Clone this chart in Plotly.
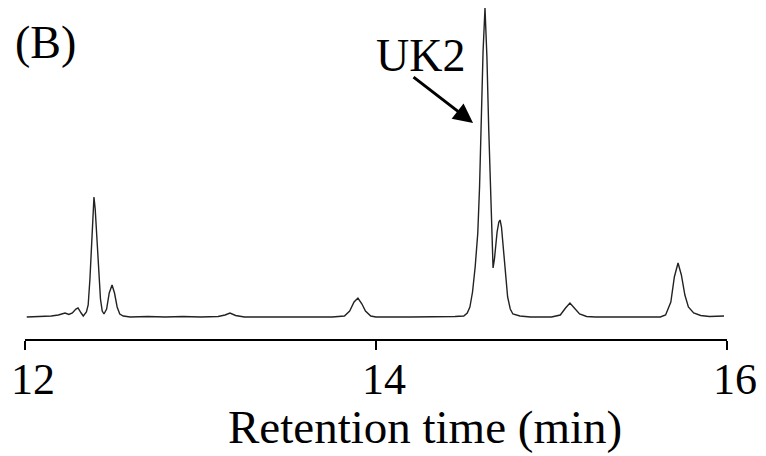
import plotly.graph_objects as go

# Chromatogram: retention time (min) and detector signal (arbitrary units)
time_min = [
    12.01, 12.10, 12.15, 12.19, 12.21, 12.228, 12.25, 12.27, 12.29, 12.302, 12.32, 12.332,
    12.35, 12.36, 12.37, 12.38, 12.388, 12.393, 12.40, 12.41, 12.42, 12.43, 12.44,
    12.45, 12.465, 12.48, 12.496, 12.51, 12.525, 12.54, 12.56, 12.60,
    12.70, 12.80, 12.90, 13.00, 13.10, 13.14, 13.168, 13.20, 13.25, 13.40, 13.60, 13.75,
    13.82, 13.85, 13.875, 13.897, 13.92, 13.94, 13.97, 14.00, 14.20, 14.40, 14.45,
    14.50, 14.52, 14.535, 14.55, 14.565, 14.58, 14.59, 14.60, 14.61, 14.621, 14.632,
    14.642, 14.652, 14.66, 14.667, 14.675, 14.69, 14.70, 14.707, 14.715, 14.728, 14.74,
    14.75, 14.765, 14.78, 14.82, 14.88, 15.00, 15.05, 15.08, 15.105, 15.13, 15.16, 15.20,
    15.25, 15.50, 15.62, 15.65, 15.68, 15.70, 15.721, 15.74, 15.76, 15.78, 15.81, 15.85,
    15.90, 15.983,
]
signal = [
    0, 0.5, 1, 2, 3, 4, 2.5, 4, 8, 9, 4, 1,
    5, 12, 38, 78, 108, 120, 108, 80, 45, 18, 6,
    3, 8, 24, 32, 24, 10, 3, 1, 0,
    0.5, 0, 0.5, 0, 0.5, 2, 4, 1.5, 0, 0, 0.3, 0,
    1, 6, 15, 19, 13, 6, 1, 0, 0, 0, 0.5,
    1, 4, 10, 25, 50, 84, 130, 200, 265, 309, 260,
    190, 125, 75, 49, 58, 85, 95, 97, 90, 65, 38,
    20, 8, 3, 1, 0, 0, 2, 9, 14, 9, 3, 0.5,
    0, 0, 0, 2, 15, 40, 54, 42, 22, 10, 4, 1.5,
    0.5, 1,
]

x_ticks = [12, 14, 16]
x_tick_labels = ["12", "14", "16"]
x_title = "Retention time (min)"
panel_label = "(B)"
peak_label = "UK2"
peak_label_pos = (14.256, 262)
arrow_head = (14.553, 194)

FONT = "Liberation Serif, Times New Roman, serif"

fig = go.Figure()
fig.add_trace(go.Scatter(
    x=time_min, y=signal, mode="lines",
    line=dict(color="#222222", width=1.4),
    showlegend=False, hoverinfo="skip",
))

fig.update_layout(
    width=766, height=456, autosize=False,
    margin=dict(l=25, r=39, t=5, b=117),
    paper_bgcolor="white", plot_bgcolor="white",
    font=dict(family=FONT, color="black"),
    xaxis=dict(
        range=[12, 16], tickvals=x_ticks, showticklabels=False,
        showline=True, linecolor="black", linewidth=2,
        ticks="outside", ticklen=9, tickwidth=2, tickcolor="black",
        showgrid=False, zeroline=False, fixedrange=True,
    ),
    yaxis=dict(
        range=[-22, 312], visible=False, showgrid=False, zeroline=False, fixedrange=True,
    ),
)

# tick labels (sit slightly right of their ticks in the reference)
for tv, tl in zip(x_ticks, x_tick_labels):
    fig.add_annotation(
        text=tl, x=tv, xref="x", yref="paper", y=(339 - 379) / 334,
        xanchor="center", yanchor="middle", xshift=8, showarrow=False,
        font=dict(family=FONT, size=44, color="black"),
    )

fig.add_annotation(
    text=x_title, xref="paper", yref="paper", x=0.57, y=(339 - 455) / 334,
    xanchor="center", yanchor="bottom", showarrow=False,
    font=dict(family=FONT, size=47, color="black"),
)
fig.add_annotation(
    text=panel_label, xref="paper", yref="paper", x=-0.017, y=0.889,
    xanchor="left", yanchor="middle", showarrow=False,
    font=dict(family=FONT, size=46, color="black"),
)
fig.add_annotation(
    text=peak_label, x=peak_label_pos[0], y=peak_label_pos[1],
    xanchor="center", yanchor="middle", showarrow=False,
    font=dict(family=FONT, size=46, color="black"),
)
fig.add_annotation(
    text="", x=arrow_head[0], y=arrow_head[1], ax=-61, ay=-47,
    showarrow=True, arrowhead=2, arrowsize=1.3, arrowwidth=3, arrowcolor="black",
    standoff=0, startstandoff=0,
)

fig.write_html("out.html")
